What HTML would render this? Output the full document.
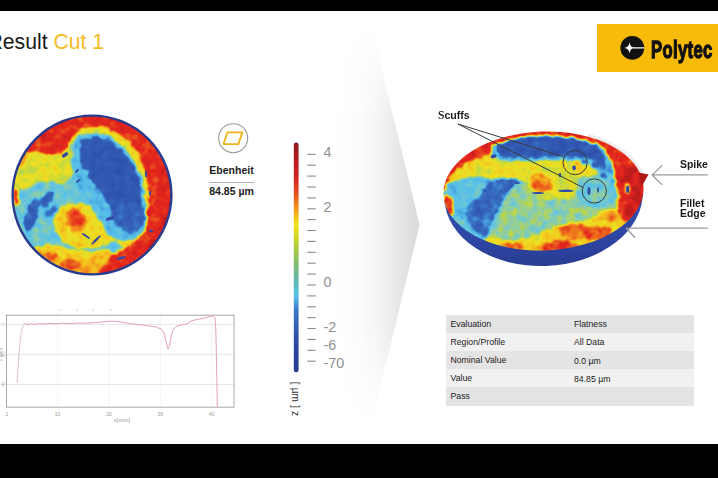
<!DOCTYPE html>
<html><head><meta charset="utf-8">
<style>
html,body{margin:0;padding:0;}
body{width:718px;height:478px;position:relative;overflow:hidden;background:#fff;font-family:"Liberation Sans",sans-serif;}
.abs{position:absolute;}
#topbar{left:0;top:0;width:718px;height:11px;background:#000;}
#botbar{left:0;top:444px;width:718px;height:34px;background:#000;}
#title{left:-12.5px;top:29.6px;font-size:21.2px;color:#1a1a1a;white-space:nowrap;line-height:24px;}
#title span{color:#f4bc24;}
#logo{left:597px;top:24px;width:121px;height:48px;background:#f8bb0a;}
#logotext{left:651px;top:36px;font-size:23.8px;font-weight:bold;color:#111;transform-origin:0 0;transform:scaleX(0.70);white-space:nowrap;line-height:28px;-webkit-text-stroke:1.3px #111;letter-spacing:0.5px}
</style></head>
<body>
<div id="topbar" class="abs"></div>
<div id="botbar" class="abs"></div>
<div id="title" class="abs">Result <span>Cut 1</span></div>

<!-- chevron -->
<svg class="abs" style="left:0;top:0" width="718" height="478">
  <defs>
    <linearGradient id="chg" x1="0" y1="0" x2="1" y2="0">
      <stop offset="0" stop-color="#fff" stop-opacity="0"/>
      <stop offset="0.55" stop-color="#f4f4f4"/>
      <stop offset="1" stop-color="#d9d9d9"/>
    </linearGradient>
    <linearGradient id="chv" x1="0" y1="0" x2="0" y2="1">
      <stop offset="0" stop-color="#fff" stop-opacity="0"/>
      <stop offset="0.25" stop-color="#fff" stop-opacity="1"/>
      <stop offset="0.75" stop-color="#fff" stop-opacity="1"/>
      <stop offset="1" stop-color="#fff" stop-opacity="0"/>
    </linearGradient>
    <mask id="chm"><rect x="330" y="20" width="100" height="410" fill="url(#chv)"/></mask>
  </defs>
  <polygon points="330,25 371,25 419.6,225 374,414 330,414" fill="url(#chg)" mask="url(#chm)"/>
</svg>

<!-- logo -->
<div id="logo" class="abs"></div>
<svg class="abs" style="left:618px;top:34px" width="28" height="28" viewBox="618 34 28 28">
  <circle cx="632.3" cy="47.9" r="11.9" fill="#111"/>
  <path d="M624.4,47.9 Q628.8,47.4 629.6,42.6 Q630.4,47.1 633,47.3 L644.2,47.3 L644.2,48.5 L633,48.5 Q630.4,48.7 629.6,53.2 Q628.8,48.4 624.4,47.9Z" fill="#fff"/>
</svg>
<div id="logotext" class="abs">Polytec</div>



<!--LD-->
<svg class="abs" style="left:0;top:100px" width="200" height="190" viewBox="0 100 200 190">
  <defs>
    <filter id="lsoft"><feGaussianBlur stdDeviation="0.4"/></filter>
    <clipPath id="lc"><circle cx="92" cy="195" r="79"/></clipPath>
    <filter id="lhm" filterUnits="userSpaceOnUse" x="0" y="100" width="200" height="190" color-interpolation-filters="sRGB">
      <feTurbulence type="fractalNoise" baseFrequency="0.2" numOctaves="3" seed="3" result="dn"/>
      <feDisplacementMap in="SourceGraphic" in2="dn" scale="5" xChannelSelector="R" yChannelSelector="G" result="disp"/>
      <feGaussianBlur in="disp" stdDeviation="0.8" result="bl"/>
      <feTurbulence type="fractalNoise" baseFrequency="0.12" numOctaves="2" seed="8" result="n2"/>
      <feColorMatrix in="n2" type="matrix" values="1 0 0 0 0  1 0 0 0 0  1 0 0 0 0  0 0 0 0 1" result="g2"/>
      <feComposite in="bl" in2="g2" operator="arithmetic" k1="0" k2="1" k3="0.25" k4="-0.125" result="v"/>
      <feComponentTransfer in="v"><feFuncR type="table" tableValues="0.180 0.188 0.196 0.212 0.227 0.282 0.337 0.384 0.486 0.604 0.722 0.847 0.933 0.949 0.957 0.949 0.933 0.910 0.894 0.863 0.737"/><feFuncG type="table" tableValues="0.314 0.337 0.361 0.392 0.478 0.627 0.741 0.769 0.792 0.816 0.839 0.863 0.878 0.800 0.706 0.565 0.431 0.290 0.149 0.141 0.110"/><feFuncB type="table" tableValues="0.659 0.690 0.706 0.733 0.784 0.863 0.918 0.878 0.753 0.565 0.298 0.188 0.133 0.118 0.110 0.110 0.110 0.110 0.110 0.125 0.110"/><feFuncA type="identity"/></feComponentTransfer>
    </filter>
  </defs>
  <g clip-path="url(#lc)">
   <g filter="url(#lhm)">
    <rect x="-10" y="90" width="220" height="210" fill="#5e5e5e"/>
    <path d="M2.0,146.0 C6.7,138.7 28.7,145.7 40.0,146.0 C51.3,146.3 64.3,145.3 70.0,148.0 C75.7,150.7 74.0,157.0 74.0,162.0 C74.0,167.0 72.3,174.3 70.0,178.0 C67.7,181.7 63.7,183.7 60.0,184.0 C56.3,184.3 52.0,180.0 48.0,180.0 C44.0,180.0 40.0,182.7 36.0,184.0 C32.0,185.3 28.0,187.0 24.0,188.0 C20.0,189.0 15.7,197.0 12.0,190.0 C8.3,183.0 -2.7,153.3 2.0,146.0Z" fill="#919191"/>
    <path d="M58.0,210.0 C60.5,207.3 63.7,205.0 68.0,204.0 C72.3,203.0 79.3,202.7 84.0,204.0 C88.7,205.3 92.0,208.3 96.0,212.0 C100.0,215.7 104.7,221.7 108.0,226.0 C111.3,230.3 116.7,234.7 116.0,238.0 C115.3,241.3 109.3,244.3 104.0,246.0 C98.7,247.7 90.3,248.3 84.0,248.0 C77.7,247.7 70.7,246.7 66.0,244.0 C61.3,241.3 58.2,236.0 56.0,232.0 C53.8,228.0 52.7,223.7 53.0,220.0 C53.3,216.3 55.5,212.7 58.0,210.0Z" fill="#9e9e9e"/>
    <path d="M28.0,252.0 C31.8,246.8 41.0,245.5 48.0,245.0 C55.0,244.5 63.0,247.8 70.0,249.0 C77.0,250.2 83.3,251.8 90.0,252.0 C96.7,252.2 105.7,246.7 110.0,250.0 C114.3,253.3 130.2,267.7 116.0,272.0 C101.8,276.3 39.7,279.3 25.0,276.0 C10.3,272.7 24.2,257.2 28.0,252.0Z" fill="#a3a3a3"/>
    <path d="M72.0,150.0 C71.3,144.2 69.0,137.3 71.0,133.0 C73.0,128.7 79.2,125.8 84.0,124.0 C88.8,122.2 94.7,121.7 100.0,122.0 C105.3,122.3 111.0,123.7 116.0,126.0 C121.0,128.3 125.8,132.0 130.0,136.0 C134.2,140.0 138.0,145.0 141.0,150.0 C144.0,155.0 146.2,159.3 148.0,166.0 C149.8,172.7 151.3,181.8 152.0,190.0 C152.7,198.2 152.7,207.7 152.0,215.0 C151.3,222.3 150.7,228.8 148.0,234.0 C145.3,239.2 140.7,244.3 136.0,246.0 C131.3,247.7 124.0,246.0 120.0,244.0 C116.0,242.0 115.3,238.7 112.0,234.0 C108.7,229.3 104.0,222.0 100.0,216.0 C96.0,210.0 91.3,203.3 88.0,198.0 C84.7,192.7 82.2,189.0 80.0,184.0 C77.8,179.0 76.3,173.7 75.0,168.0 C73.7,162.3 72.7,155.8 72.0,150.0Z" fill="#999999"/>
    <path d="M66.0,216.0 C66.8,213.0 69.5,208.8 72.0,208.0 C74.5,207.2 78.5,209.0 81.0,211.0 C83.5,213.0 86.5,217.0 87.0,220.0 C87.5,223.0 86.2,227.2 84.0,229.0 C81.8,230.8 76.8,231.5 74.0,231.0 C71.2,230.5 68.3,228.5 67.0,226.0 C65.7,223.5 65.2,219.0 66.0,216.0Z" fill="#cccccc"/>
    <path d="M32.0,256.0 C34.8,251.3 40.0,251.8 45.0,252.0 C50.0,252.2 56.2,255.7 62.0,257.0 C67.8,258.3 74.3,260.3 80.0,260.0 C85.7,259.7 91.7,255.3 96.0,255.0 C100.3,254.7 105.7,253.8 106.0,258.0 C106.3,262.2 111.0,276.3 98.0,280.0 C85.0,283.7 39.0,284.0 28.0,280.0 C17.0,276.0 29.2,260.7 32.0,256.0Z" fill="#b2b2b2"/>
    <path d="M8.0,150.0 C10.0,147.3 18.7,146.7 22.0,148.0 C25.3,149.3 28.3,155.0 28.0,158.0 C27.7,161.0 23.0,165.0 20.0,166.0 C17.0,167.0 12.0,166.7 10.0,164.0 C8.0,161.3 6.0,152.7 8.0,150.0Z" fill="#bdbdbd"/>
    <path d="M0,100 L200,100 L200,290 L94,290 L94.0,280.0 C94.7,278.7 96.3,274.7 98.0,272.0 C99.7,269.3 101.7,266.7 104.0,264.0 C106.3,261.3 109.3,258.3 112.0,256.0 C114.7,253.7 116.5,252.2 120.0,250.0 C123.5,247.8 129.3,245.8 133.0,243.0 C136.7,240.2 139.8,236.7 142.0,233.0 C144.2,229.3 145.0,225.3 146.0,221.0 C147.0,216.7 147.5,211.8 148.0,207.0 C148.5,202.2 149.3,196.8 149.0,192.0 C148.7,187.2 147.0,182.5 146.0,178.0 C145.0,173.5 144.6,169.8 142.8,165.2 C141.0,160.5 138.9,154.9 135.3,150.1 C131.8,145.3 125.9,139.9 121.5,136.3 C117.1,132.8 113.1,130.4 108.9,128.8 C104.7,127.2 100.8,126.9 96.4,126.9 C92.0,126.9 86.2,127.5 82.6,128.8 C79.0,130.2 77.6,131.8 75.0,135.0 C72.4,138.2 70.0,144.3 67.1,147.7 C64.2,151.1 61.8,154.3 57.7,155.2 C53.6,156.1 47.4,153.9 42.7,153.3 C38.0,152.7 36.0,152.0 29.5,151.4 C23.1,150.8 8.2,150.2 4.0,150.0 L0,100 Z" fill="#e6e6e6"/>
    <path d="M152,140 Q172,170 170,200 Q162,235 142,252 L200,290 L200,100Z" fill="#f5f5f5"/>
    <path d="M13.0,191.0 C13.5,188.5 16.0,188.0 17.0,189.0 C18.0,190.0 18.8,194.3 19.0,197.0 C19.2,199.7 18.8,203.8 18.0,205.0 C17.2,206.2 14.8,206.3 14.0,204.0 C13.2,201.7 12.5,193.5 13.0,191.0Z" fill="#e0e0e0"/>
    <path d="M46.0,253.0 C46.8,251.7 50.2,250.5 52.0,251.0 C53.8,251.5 56.7,254.3 57.0,256.0 C57.3,257.7 55.7,260.5 54.0,261.0 C52.3,261.5 48.3,260.3 47.0,259.0 C45.7,257.7 45.2,254.3 46.0,253.0Z" fill="#d6d6d6"/>
    <path d="M60.0,262.0 C61.3,260.5 66.7,259.0 70.0,259.0 C73.3,259.0 78.7,260.5 80.0,262.0 C81.3,263.5 81.0,267.0 78.0,268.0 C75.0,269.0 65.0,269.0 62.0,268.0 C59.0,267.0 58.7,263.5 60.0,262.0Z" fill="#d6d6d6"/>
    <path d="M69.0,217.0 C69.7,215.0 72.8,211.8 75.0,212.0 C77.2,212.2 81.3,215.5 82.0,218.0 C82.7,220.5 80.8,226.0 79.0,227.0 C77.2,228.0 72.7,225.7 71.0,224.0 C69.3,222.3 68.3,219.0 69.0,217.0Z" fill="#dbdbdb"/>
    <path d="M72.0,155.0 C72.5,150.0 73.0,141.5 75.0,138.0 C77.0,134.5 79.2,134.7 83.8,134.0 C88.4,133.3 97.5,132.9 102.7,134.0 C107.9,135.1 110.6,137.1 115.2,140.5 C119.8,143.9 126.7,149.8 130.5,154.5 C134.3,159.2 136.2,165.1 138.0,168.5 C139.8,171.9 140.6,171.4 141.6,175.0 C142.6,178.6 143.3,184.2 144.0,190.0 C144.7,195.8 145.7,204.0 146.0,210.0 C146.3,216.0 147.2,221.5 146.0,226.0 C144.8,230.5 142.5,234.5 139.0,237.0 C135.5,239.5 129.8,241.2 125.0,241.0 C120.2,240.8 114.5,239.8 110.0,236.0 C105.5,232.2 102.0,224.0 98.0,218.0 C94.0,212.0 89.5,205.5 86.0,200.0 C82.5,194.5 79.3,190.3 77.0,185.0 C74.7,179.7 72.8,173.0 72.0,168.0 C71.2,163.0 71.5,160.0 72.0,155.0Z" fill="#4c4c4c"/>
    <path d="M80.0,152.7 C79.9,149.0 80.5,144.8 81.3,142.6 C82.1,140.4 82.5,140.3 85.0,139.5 C87.5,138.7 92.4,137.8 96.4,138.0 C100.4,138.2 105.5,139.5 108.9,141.0 C112.3,142.5 114.4,145.0 117.0,147.0 C119.6,149.0 122.2,150.8 124.5,153.0 C126.8,155.2 128.8,157.9 130.5,160.5 C132.2,163.1 133.5,166.1 134.5,168.5 C135.5,170.9 135.7,172.5 136.5,175.0 C137.3,177.5 138.7,179.8 139.5,183.6 C140.3,187.4 140.8,193.6 141.3,198.0 C141.8,202.4 142.7,206.0 142.5,210.0 C142.3,214.0 141.8,218.8 140.0,222.0 C138.2,225.2 134.5,227.7 132.0,229.0 C129.5,230.3 127.3,232.0 124.8,230.0 C122.3,228.0 120.5,222.7 117.0,217.2 C113.5,211.7 108.1,203.8 103.6,197.1 C99.1,190.4 93.8,182.3 90.2,177.0 C86.6,171.7 83.7,169.1 82.0,165.0 C80.3,160.9 80.1,156.4 80.0,152.7Z" fill="#121212"/>
    <path d="M112.0,212.0 C113.3,208.5 120.8,205.7 126.0,205.0 C131.2,204.3 139.8,205.5 143.0,208.0 C146.2,210.5 145.7,216.3 145.0,220.0 C144.3,223.7 141.8,227.8 139.0,230.0 C136.2,232.2 131.5,233.7 128.0,233.0 C124.5,232.3 120.7,229.5 118.0,226.0 C115.3,222.5 110.7,215.5 112.0,212.0Z" fill="#242424"/>
    <path d="M31.0,202.0 C32.7,199.8 35.5,197.5 37.0,198.0 C38.5,198.5 40.0,202.0 40.0,205.0 C40.0,208.0 38.2,212.2 37.0,216.0 C35.8,219.8 34.7,225.5 33.0,228.0 C31.3,230.5 28.7,231.8 27.0,231.0 C25.3,230.2 23.0,226.3 23.0,223.0 C23.0,219.7 25.7,214.5 27.0,211.0 C28.3,207.5 29.3,204.2 31.0,202.0Z" fill="#1f1f1f"/>
    <path d="M40.0,199.0 C40.8,196.5 45.7,193.8 48.0,193.0 C50.3,192.2 53.5,192.5 54.0,194.0 C54.5,195.5 52.8,199.7 51.0,202.0 C49.2,204.3 44.8,208.5 43.0,208.0 C41.2,207.5 39.2,201.5 40.0,199.0Z" fill="#262626"/>
    <path d="M44.0,213.0 C44.5,211.3 50.7,207.7 53.0,207.0 C55.3,206.3 58.5,207.3 58.0,209.0 C57.5,210.7 52.3,216.3 50.0,217.0 C47.7,217.7 43.5,214.7 44.0,213.0Z" fill="#2e2e2e"/>
   </g>
  </g>
    <g fill="#3048a8" filter="url(#lsoft)">
      <ellipse cx="65" cy="155" rx="3.5" ry="1.8" transform="rotate(-35 65 155)"/>
      <ellipse cx="110" cy="218.5" rx="4.5" ry="1.7" transform="rotate(-20 110 218.5)"/>
      <ellipse cx="96" cy="240" rx="6.5" ry="1.2" transform="rotate(-45 96 240)"/>
      <ellipse cx="86" cy="236" rx="5" ry="1" transform="rotate(35 86 236)"/>
      <ellipse cx="77" cy="171" rx="2.5" ry="1" transform="rotate(-50 77 171)"/>
      <ellipse cx="78" cy="181" rx="2.5" ry="1" transform="rotate(-40 78 181)"/>
      <ellipse cx="146" cy="174" rx="1" ry="3.5"/>
      <ellipse cx="150" cy="193" rx="1" ry="2.6"/>
      <ellipse cx="121" cy="258" rx="4.5" ry="1.4" transform="rotate(-15 121 258)"/>
      <ellipse cx="151" cy="231" rx="2" ry="1.2"/>
    </g>
  <circle cx="92" cy="195" r="79.4" fill="none" stroke="#2a3a8c" stroke-width="2.4"/>
</svg>
<!--/LD-->
<!--RD-->
<svg class="abs" style="left:430px;top:110px" width="230" height="170" viewBox="430 110 230 170">
  <defs>
    <linearGradient id="rimg" x1="0" y1="192" x2="0" y2="267" gradientUnits="userSpaceOnUse"><stop offset="0" stop-color="#3250b0"/><stop offset="0.6" stop-color="#2e46a4"/><stop offset="1" stop-color="#283c92"/></linearGradient>
    <clipPath id="rimclip"><rect x="420" y="192" width="250" height="100"/></clipPath>
    <clipPath id="rc"><ellipse cx="543.5" cy="191" rx="100.1" ry="59.5" transform="rotate(-2.08 543.5 191)"/></clipPath>
    <filter id="rhm" filterUnits="userSpaceOnUse" x="430" y="110" width="230" height="170" color-interpolation-filters="sRGB">
      <feTurbulence type="fractalNoise" baseFrequency="0.2" numOctaves="3" seed="5" result="dn"/>
      <feDisplacementMap in="SourceGraphic" in2="dn" scale="5" xChannelSelector="R" yChannelSelector="G" result="disp"/>
      <feGaussianBlur in="disp" stdDeviation="0.8" result="bl"/>
      <feTurbulence type="fractalNoise" baseFrequency="0.12" numOctaves="2" seed="12" result="n2"/>
      <feColorMatrix in="n2" type="matrix" values="1 0 0 0 0  1 0 0 0 0  1 0 0 0 0  0 0 0 0 1" result="g2"/>
      <feComposite in="bl" in2="g2" operator="arithmetic" k1="0" k2="1" k3="0.28" k4="-0.14" result="v"/>
      <feComponentTransfer in="v"><feFuncR type="table" tableValues="0.180 0.188 0.196 0.212 0.227 0.282 0.337 0.384 0.486 0.604 0.722 0.847 0.933 0.949 0.957 0.949 0.933 0.910 0.894 0.863 0.737"/><feFuncG type="table" tableValues="0.314 0.337 0.361 0.392 0.478 0.627 0.741 0.769 0.792 0.816 0.839 0.863 0.878 0.800 0.706 0.565 0.431 0.290 0.149 0.141 0.110"/><feFuncB type="table" tableValues="0.659 0.690 0.706 0.733 0.784 0.863 0.918 0.878 0.753 0.565 0.298 0.188 0.133 0.118 0.110 0.110 0.110 0.110 0.110 0.125 0.110"/><feFuncA type="identity"/></feComponentTransfer>
    </filter>
    <filter id="rsoft2"><feGaussianBlur stdDeviation="0.4"/></filter>
  </defs>
  <ellipse cx="543.5" cy="191" rx="101.6" ry="61.0" transform="rotate(-2.08 543.5 191)" fill="none" stroke="#eeeeee" stroke-width="3" pathLength="100" stroke-dasharray="0 84 14 2"/>
  <ellipse cx="543.5" cy="195" rx="99.3" ry="71" transform="rotate(-2.08 543.5 195)" fill="url(#rimg)" clip-path="url(#rimclip)"/>
  <g clip-path="url(#rc)">
   <g filter="url(#rhm)">
    <rect x="420" y="100" width="250" height="190" fill="#545454"/>
    <path d="M498.0,182.0 C505.0,173.7 518.8,173.0 530.0,172.0 C541.2,171.0 553.3,174.3 565.0,176.0 C576.7,177.7 591.5,178.0 600.0,182.0 C608.5,186.0 612.3,192.8 616.0,200.0 C619.7,207.2 626.3,217.3 622.0,225.0 C617.7,232.7 603.7,240.8 590.0,246.0 C576.3,251.2 557.2,255.0 540.0,256.0 C522.8,257.0 495.7,257.7 487.0,252.0 C478.3,246.3 486.2,233.7 488.0,222.0 C489.8,210.3 491.0,190.3 498.0,182.0Z" fill="#707070"/>
    <path d="M444.0,165.0 C447.7,159.7 460.7,151.5 470.0,150.0 C479.3,148.5 487.5,154.3 500.0,156.0 C512.5,157.7 530.8,159.0 545.0,160.0 C559.2,161.0 576.2,159.7 585.0,162.0 C593.8,164.3 598.0,170.7 598.0,174.0 C598.0,177.3 593.8,180.7 585.0,182.0 C576.2,183.3 558.3,182.3 545.0,182.0 C531.7,181.7 517.5,180.8 505.0,180.0 C492.5,179.2 479.5,176.7 470.0,177.0 C460.5,177.3 452.3,184.0 448.0,182.0 C443.7,180.0 440.3,170.3 444.0,165.0Z" fill="#999999"/>
    <path d="M487.0,238.0 C493.7,235.5 507.8,242.0 520.0,240.0 C532.2,238.0 546.7,230.0 560.0,226.0 C573.3,222.0 588.7,219.5 600.0,216.0 C611.3,212.5 622.2,201.0 628.0,205.0 C633.8,209.0 648.8,230.5 635.0,240.0 C621.2,249.5 570.8,259.5 545.0,262.0 C519.2,264.5 489.7,259.0 480.0,255.0 C470.3,251.0 480.3,240.5 487.0,238.0Z" fill="#9e9e9e"/>
    <path d="M528.0,170.0 C532.2,165.3 551.0,166.7 560.0,168.0 C569.0,169.3 579.0,173.5 582.0,178.0 C585.0,182.5 582.5,191.3 578.0,195.0 C573.5,198.7 562.2,199.8 555.0,200.0 C547.8,200.2 539.5,201.0 535.0,196.0 C530.5,191.0 523.8,174.7 528.0,170.0Z" fill="#8c8c8c"/>
    <path d="M530.0,177.0 C531.2,174.2 536.7,172.8 540.0,173.0 C543.3,173.2 548.2,175.5 550.0,178.0 C551.8,180.5 552.0,185.5 551.0,188.0 C550.0,190.5 547.0,192.7 544.0,193.0 C541.0,193.3 535.3,192.7 533.0,190.0 C530.7,187.3 528.8,179.8 530.0,177.0Z" fill="#c7c7c7"/>
    <path d="M560.0,228.0 C561.7,226.0 567.0,224.3 572.0,224.0 C577.0,223.7 585.7,224.7 590.0,226.0 C594.3,227.3 598.0,230.0 598.0,232.0 C598.0,234.0 594.3,236.7 590.0,238.0 C585.7,239.3 576.7,240.3 572.0,240.0 C567.3,239.7 564.0,238.0 562.0,236.0 C560.0,234.0 558.3,230.0 560.0,228.0Z" fill="#cccccc"/>
    <path d="M540.0,246.0 C545.0,244.5 553.3,243.2 560.0,243.0 C566.7,242.8 575.8,243.5 580.0,245.0 C584.2,246.5 590.8,249.8 585.0,252.0 C579.2,254.2 554.2,258.0 545.0,258.0 C535.8,258.0 530.8,254.0 530.0,252.0 C529.2,250.0 535.0,247.5 540.0,246.0Z" fill="#bdbdbd"/>
    <path d="M500.0,244.0 C500.5,242.7 510.8,241.5 515.0,242.0 C519.2,242.5 525.5,245.7 525.0,247.0 C524.5,248.3 516.2,250.5 512.0,250.0 C507.8,249.5 499.5,245.3 500.0,244.0Z" fill="#cccccc"/>
    <path d="M578,178 L598,174 L612,182 L614,200 L606,208 L586,206 L576,196Z" fill="#616161"/>
    <path d="M585.0,232.0 C587.0,229.7 597.5,226.3 602.0,226.0 C606.5,225.7 611.3,228.0 612.0,230.0 C612.7,232.0 609.7,236.3 606.0,238.0 C602.3,239.7 593.5,241.0 590.0,240.0 C586.5,239.0 583.0,234.3 585.0,232.0Z" fill="#d6d6d6"/>
    <path d="M600.0,212.0 C601.7,210.3 608.7,209.3 612.0,210.0 C615.3,210.7 620.0,214.0 620.0,216.0 C620.0,218.0 615.0,221.3 612.0,222.0 C609.0,222.7 604.0,221.7 602.0,220.0 C600.0,218.3 598.3,213.7 600.0,212.0Z" fill="#bdbdbd"/>
    <path d="M440.0,192.0 C437.3,183.0 425.2,131.7 436.0,120.0 C446.8,108.3 494.1,118.8 505.0,122.0 C515.9,125.2 502.9,135.8 501.3,139.5 C499.7,143.2 497.0,141.9 495.2,144.3 C493.4,146.7 493.4,151.6 490.6,154.0 C487.8,156.4 482.9,156.8 478.3,158.6 C473.7,160.4 467.4,162.2 463.0,164.8 C458.6,167.4 455.8,169.5 452.0,174.0 C448.2,178.5 442.7,201.0 440.0,192.0Z" fill="#e6e6e6"/>
    <path d="M588.0,120.0 C576.5,123.8 588.0,136.9 591.0,142.6 C594.0,148.3 602.7,150.6 606.3,154.0 C609.9,157.4 611.1,159.9 612.4,163.2 C613.7,166.5 613.2,169.7 614.0,174.0 C614.8,178.3 616.2,185.0 617.0,189.3 C617.8,193.6 618.2,195.9 618.5,200.0 C618.8,204.1 617.1,210.3 618.7,214.0 C620.3,217.7 621.1,220.7 628.0,222.0 C634.9,223.3 654.7,239.0 660.0,222.0 C665.3,205.0 672.0,137.0 660.0,120.0 C648.0,103.0 599.5,116.2 588.0,120.0Z" fill="#e6e6e6"/>
    <path d="M618,160 Q630,185 624,218 L660,218 L660,150Z" fill="#f7f7f7"/>
    <path d="M444.0,197.0 C444.7,194.0 448.5,194.8 450.0,196.0 C451.5,197.2 452.7,201.0 453.0,204.0 C453.3,207.0 453.2,212.3 452.0,214.0 C450.8,215.7 447.3,216.8 446.0,214.0 C444.7,211.2 443.3,200.0 444.0,197.0Z" fill="#e0e0e0"/>
    <path d="M545.0,244.0 C547.8,241.7 559.5,240.0 565.0,240.0 C570.5,240.0 576.3,242.2 578.0,244.0 C579.7,245.8 580.0,249.3 575.0,251.0 C570.0,252.7 553.0,255.2 548.0,254.0 C543.0,252.8 542.2,246.3 545.0,244.0Z" fill="#dbdbdb"/>
    <path d="M495.0,139.0 C500.3,136.2 514.8,135.0 524.0,134.0 C533.2,133.0 541.0,133.0 550.0,133.0 C559.0,133.0 570.7,133.0 578.0,134.0 C585.3,135.0 589.8,136.8 594.0,139.0 C598.2,141.2 600.5,143.5 603.0,147.0 C605.5,150.5 607.7,155.8 609.0,160.0 C610.3,164.2 613.2,170.5 611.0,172.0 C608.8,173.5 600.2,170.7 596.0,169.0 C591.8,167.3 590.0,163.5 586.0,162.0 C582.0,160.5 578.0,160.3 572.0,160.0 C566.0,159.7 558.0,159.8 550.0,160.0 C542.0,160.2 532.3,161.0 524.0,161.0 C515.7,161.0 505.3,161.7 500.0,160.0 C494.7,158.3 492.8,154.5 492.0,151.0 C491.2,147.5 489.7,141.8 495.0,139.0Z" fill="#474747"/>
    <path d="M500.0,140.0 C504.5,137.9 515.7,137.2 524.0,136.5 C532.3,135.8 541.5,135.4 550.0,135.5 C558.5,135.6 568.3,136.1 575.0,137.0 C581.7,137.9 586.2,139.2 590.0,141.0 C593.8,142.8 595.7,145.2 598.0,148.0 C600.3,150.8 602.7,154.7 604.0,158.0 C605.3,161.3 607.0,166.8 606.0,168.0 C605.0,169.2 601.0,166.7 598.0,165.0 C595.0,163.3 591.8,159.5 588.0,158.0 C584.2,156.5 579.7,156.3 575.0,156.0 C570.3,155.7 564.2,156.0 560.0,156.0 C555.8,156.0 556.0,155.8 550.0,156.0 C544.0,156.2 531.8,157.0 524.0,157.0 C516.2,157.0 507.5,157.3 503.0,156.0 C498.5,154.7 497.5,151.7 497.0,149.0 C496.5,146.3 495.5,142.1 500.0,140.0Z" fill="#141414"/>
    <ellipse cx="596" cy="165" rx="5" ry="3" fill="#1f1f1f"/>
    <ellipse cx="604" cy="176" rx="3" ry="2.4" fill="#1f1f1f"/>
    <ellipse cx="585" cy="162" rx="4" ry="2" fill="#1f1f1f"/>
    <path d="M490.0,181.7 C494.3,178.9 500.7,178.1 506.0,178.0 C511.3,177.9 520.7,179.7 522.0,181.0 C523.3,182.3 516.7,182.5 513.6,186.0 C510.5,189.5 506.9,196.4 503.5,201.8 C500.1,207.2 496.3,212.6 493.5,218.5 C490.7,224.4 489.6,234.8 486.8,237.0 C484.0,239.2 480.1,235.1 476.8,232.0 C473.5,228.9 468.2,223.0 466.8,218.5 C465.4,214.0 466.2,208.9 468.4,205.0 C470.6,201.1 476.4,198.9 480.0,195.0 C483.6,191.1 485.7,184.5 490.0,181.7Z" fill="#292929"/>
    <ellipse cx="543.5" cy="191" rx="100.1" ry="59.5" transform="rotate(-2.08 543.5 191)" fill="none" stroke="#e6e6e6" stroke-width="8.5" pathLength="100" stroke-dasharray="0 57 38 5"/>
    <ellipse cx="627.7" cy="189.3" rx="3" ry="6" fill="#9e9e9e"/>
   </g>
   <g fill="#2f4aa8" filter="url(#rsoft2)">
      <ellipse cx="493.6" cy="156.3" rx="3" ry="1.8" transform="rotate(-20 493.6 156.3)"/>
      <ellipse cx="574.1" cy="167.8" rx="1.8" ry="2.6"/>
      <ellipse cx="566" cy="190.8" rx="8" ry="1.3"/>
      <ellipse cx="538" cy="193" rx="6" ry="1.1"/>
      <ellipse cx="589" cy="191" rx="1.5" ry="4"/>
      <ellipse cx="598" cy="190" rx="0.9" ry="3"/>
      <ellipse cx="517" cy="183" rx="3" ry="1"/>
      <ellipse cx="560" cy="175" rx="1.2" ry="2.2"/>
      <ellipse cx="627.7" cy="189.3" rx="1.6" ry="3.8"/>
   </g>
  </g>
  <path d="M638.5,172.5 L648.5,174.5 L642,186 Z" fill="#b01818"/>
  <g fill="none" stroke="#3a3a3a" stroke-width="1">
    <circle cx="575.1" cy="162.6" r="12.1"/>
    <circle cx="594.3" cy="191" r="12.1"/>
    <path d="M458,124 L563.6,156.8 M458,124 L583.2,187.6"/>
  </g>
</svg>
<!--/RD-->

<!-- labels right -->
<div class="abs" style="left:438px;top:108px;font-size:11.5px;font-weight:bold;color:#1a1a1a;line-height:14px;white-space:nowrap;transform-origin:0 0;transform:scaleX(0.92)"><span style="font-family:'Liberation Serif',serif;font-size:12.5px">S</span>cuffs</div>
<div class="abs" style="left:680px;top:156.5px;font-size:11.5px;font-weight:bold;color:#1a1a1a;line-height:14px;white-space:nowrap;transform-origin:0 0;transform:scaleX(0.91)">Spike</div>
<div class="abs" style="left:680px;top:197.5px;font-size:11.5px;font-weight:bold;color:#1a1a1a;line-height:10.8px;white-space:nowrap;transform-origin:0 0;transform:scaleX(0.91)">Fillet<br>Edge</div>
<svg class="abs" style="left:600px;top:150px" width="118" height="100" viewBox="600 150 118 100">
  <g fill="none" stroke="#9a9a9a" stroke-width="1.3">
    <path d="M652.2,174.9 L707.8,174.9 M662.2,165.4 L652.2,174.9 L662.2,184.9"/>
    <path d="M626,228.2 L707.8,228.2 M626,228.2 L635,237.5"/>
  </g>
</svg>

<!-- flatness icon -->
<svg class="abs" style="left:210px;top:115px" width="50" height="50" viewBox="210 115 50 50">
  <circle cx="233.2" cy="138.2" r="14.5" fill="#fff" stroke="#999" stroke-width="1.1"/>
  <polygon points="227.3,132.4 242.4,132.4 238.3,144.1 223.6,144.1" fill="none" stroke="#eeb41a" stroke-width="1.8" stroke-linejoin="round"/>
</svg>
<div class="abs" style="left:188.5px;top:164px;width:86px;text-align:center;font-size:10.5px;font-weight:bold;color:#222;line-height:12px">Ebenheit</div>
<div class="abs" style="left:209px;top:182px;width:45px;height:1px;background:#b0b0b0"></div>
<div class="abs" style="left:188.5px;top:184.5px;width:86px;text-align:center;font-size:10.5px;font-weight:bold;color:#222;line-height:12px">84.85 µm</div>

<!-- color bar -->
<svg class="abs" style="left:280px;top:130px" width="80" height="300" viewBox="280 130 80 300">
  <defs>
    <linearGradient id="cbar" x1="0" y1="142.5" x2="0" y2="372.3" gradientUnits="userSpaceOnUse">
      <stop offset="0" stop-color="#8c1a1c"/>
      <stop offset="0.08" stop-color="#b81c1e"/>
      <stop offset="0.15" stop-color="#d42420"/>
      <stop offset="0.22" stop-color="#e45020"/>
      <stop offset="0.29" stop-color="#f09a1c"/>
      <stop offset="0.355" stop-color="#f5e01a"/>
      <stop offset="0.42" stop-color="#c8d428"/>
      <stop offset="0.53" stop-color="#80bc70"/>
      <stop offset="0.6" stop-color="#60b8b0"/>
      <stop offset="0.665" stop-color="#58c4e8"/>
      <stop offset="0.73" stop-color="#3a78c8"/>
      <stop offset="0.85" stop-color="#2e4ea8"/>
      <stop offset="1" stop-color="#263a8c"/>
    </linearGradient>
  </defs>
  <rect x="293.8" y="142.5" width="4.8" height="229.8" rx="2.4" fill="url(#cbar)"/>
  <g stroke="#8a8a8a" stroke-width="1.1"><line x1="307.3" x2="315.7" y1="154.3" y2="154.3"/><line x1="307.3" x2="315.7" y1="165.2" y2="165.2"/><line x1="307.3" x2="315.7" y1="176.1" y2="176.1"/><line x1="307.3" x2="315.7" y1="187.0" y2="187.0"/><line x1="307.3" x2="315.7" y1="197.9" y2="197.9"/><line x1="307.3" x2="315.7" y1="208.8" y2="208.8"/><line x1="307.3" x2="315.7" y1="219.6" y2="219.6"/><line x1="307.3" x2="315.7" y1="230.5" y2="230.5"/><line x1="307.3" x2="315.7" y1="241.4" y2="241.4"/><line x1="307.3" x2="315.7" y1="252.3" y2="252.3"/><line x1="307.3" x2="315.7" y1="263.2" y2="263.2"/><line x1="307.3" x2="315.7" y1="274.1" y2="274.1"/><line x1="307.3" x2="315.7" y1="285.0" y2="285.0"/><line x1="307.3" x2="315.7" y1="295.9" y2="295.9"/><line x1="307.3" x2="315.7" y1="306.8" y2="306.8"/><line x1="307.3" x2="315.7" y1="317.7" y2="317.7"/><line x1="307.3" x2="315.7" y1="328.5" y2="328.5"/><line x1="307.3" x2="315.7" y1="339.4" y2="339.4"/><line x1="307.3" x2="315.7" y1="350.3" y2="350.3"/><line x1="307.3" x2="315.7" y1="361.2" y2="361.2"/></g>
</svg>
<div class="abs" style="left:323.5px;top:143.9px;font-size:14.3px;color:#909090;line-height:16px">4</div>
<div class="abs" style="left:323.5px;top:198.7px;font-size:14.3px;color:#909090;line-height:16px">2</div>
<div class="abs" style="left:323.5px;top:273.5px;font-size:14.3px;color:#909090;line-height:16px">0</div>
<div class="abs" style="left:323.5px;top:318.9px;font-size:14.3px;color:#909090;line-height:16px">-2</div>
<div class="abs" style="left:323.5px;top:337.0px;font-size:14.3px;color:#909090;line-height:16px">-6</div>
<div class="abs" style="left:323.5px;top:355.3px;font-size:14.3px;color:#909090;line-height:16px">-70</div>
<div class="abs" style="left:276.5px;top:393px;width:36px;height:12px;font-size:10px;color:#333;line-height:12px;text-align:center;transform:rotate(90deg);white-space:nowrap;letter-spacing:0.2px">[ µm ] z</div>


<!-- profile chart -->
<svg class="abs" style="left:0;top:300px" width="250" height="130" viewBox="0 300 250 130">
  <g stroke="#f3f3f3" stroke-width="0.8">
    <line x1="57.6" y1="315" x2="57.6" y2="407"/>
    <line x1="109" y1="315" x2="109" y2="407"/>
    <line x1="160.3" y1="315" x2="160.3" y2="407"/>
    <line x1="211.6" y1="315" x2="211.6" y2="407"/>
  </g>
  <g stroke="#e4e4e4" stroke-width="0.9">
    <line x1="6.5" y1="324.4" x2="234" y2="324.4"/>
    <line x1="6.5" y1="354.4" x2="234" y2="354.4"/>
    <line x1="6.5" y1="384.5" x2="234" y2="384.5"/>
  </g>
  <rect x="6.5" y="315.2" width="227.5" height="92" fill="none" stroke="#a8a8a8" stroke-width="1"/>
  <path d="M17,383 L18.5,360 L20,342 L21.5,331 L23,326 L25,323.5" fill="none" stroke="#d8b8bf" stroke-width="0.9"/>
  <path d="M25,323.5 L28,324.8 L31,323.8 L35,324.3 L40,323.6 L45,323.9 L50,323.4 L55,323.9 L62,323.2 L70,323.6 L78,323.1 L86,323.2 L95,322.6 L105,321.7 L112,321.2 L120,321.8 L130,323.6 L140,324.8 L150,326 L156,327 L161,329 L164,333 L166,341 L168,349 L169.5,346 L171,337 L173,330 L176,326.5 L181,325 L186,324.3 L192,320.6 L198,319.4 L204,318.2 L209,316.8 L213.5,315.8 L215,318 L215.8,330 L216.5,360 L217.3,407" fill="none" stroke="#dc96a0" stroke-width="0.85"/>
  <g font-size="5" fill="#999" font-family="Liberation Sans">
    <text x="7" y="415.5" text-anchor="middle">1</text>
    <text x="57.6" y="415.5" text-anchor="middle">10</text>
    <text x="109" y="415.5" text-anchor="middle">20</text>
    <text x="160.3" y="415.5" text-anchor="middle">30</text>
    <text x="211.6" y="415.5" text-anchor="middle">40</text>
    <text x="122" y="421.5" text-anchor="middle" font-size="6">x[mm]</text>
  </g>
  <g font-size="4.5" fill="#aaa" font-family="Liberation Sans">
    <text transform="translate(5,324.4) rotate(-90)" text-anchor="middle">0</text>
    <text transform="translate(5,354.4) rotate(-90)" text-anchor="middle">-20</text>
    <text transform="translate(5,384.5) rotate(-90)" text-anchor="middle">-40</text>
    <text transform="translate(1.5,354.4) rotate(-90)" text-anchor="middle" font-size="5">z [µm]</text>
  </g>
  <g stroke="#bbb" stroke-width="0.6">
    <line x1="60" y1="309" x2="60" y2="311"/><line x1="77" y1="309" x2="77" y2="311"/><line x1="93" y1="309" x2="93" y2="311"/><line x1="111" y1="309" x2="111" y2="311"/>
  </g>
</svg>

<!-- table -->
<div class="abs" style="left:446px;top:314.7px;width:248px;height:91px;">
<div style="position:absolute;left:0;top:0.0px;width:248px;height:18.6px;background:#e4e4e4;font-size:8.7px;color:#222"><span style="position:absolute;left:4.5px;top:4px">Evaluation</span><span style="position:absolute;left:128px;top:4.5px">Flatness</span></div>
<div style="position:absolute;left:0;top:18.2px;width:248px;height:18.6px;background:#f1f1f1;font-size:8.7px;color:#222"><span style="position:absolute;left:4.5px;top:4px">Region/Profile</span><span style="position:absolute;left:128px;top:4.5px">All Data</span></div>
<div style="position:absolute;left:0;top:36.4px;width:248px;height:18.6px;background:#e4e4e4;font-size:8.7px;color:#222"><span style="position:absolute;left:4.5px;top:4px">Nominal Value</span><span style="position:absolute;left:128px;top:4.5px">0.0 µm</span></div>
<div style="position:absolute;left:0;top:54.6px;width:248px;height:18.6px;background:#f1f1f1;font-size:8.7px;color:#222"><span style="position:absolute;left:4.5px;top:4px">Value</span><span style="position:absolute;left:128px;top:4.5px">84.85 µm</span></div>
<div style="position:absolute;left:0;top:72.8px;width:248px;height:18.6px;background:#e4e4e4;font-size:8.7px;color:#222"><span style="position:absolute;left:4.5px;top:4px">Pass</span><span style="position:absolute;left:128px;top:4.5px"></span></div>
</div>
</body></html>
